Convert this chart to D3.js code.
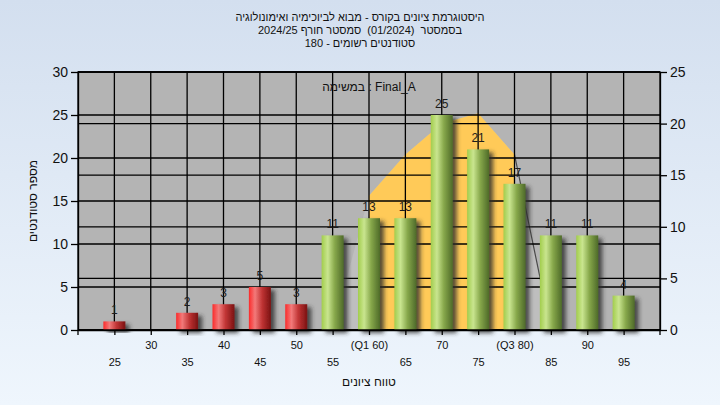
<!DOCTYPE html>
<html>
<head>
<meta charset="utf-8">
<script src="https://cdn.jsdelivr.net/npm/d3@7"></script>
<style>
  html, body { margin: 0; padding: 0; background: #e4edf8; }
  svg { display: block; font-family: "Liberation Sans", Arial, sans-serif; }
</style>
</head>
<body>
<svg id="chart" width="720" height="405"></svg>
<script>
// ---- data ----
const categories = ["25","30","35","40","45","50","55","60","65","70","75","80","85","90","95"];
const tickLabels = ["25","30","35","40","45","50","55","(Q1 60)","65","70","75","(Q3 80)","85","90","95"];
const counts     = [1, 0, 2, 3, 5, 3, 11, 13, 13, 25, 21, 17, 11, 11, 4];
const curveValues = [0, 0, 0, 0, 0, 0, 0, 13, 17, 20, 21, 17, 0, 0, 0];
const passScore = 55;
const q1Cat = "60", q3Cat = "80";
const leftTicks = [0, 5, 10, 15, 20, 25, 30];
const rightTicks = [0, 5, 10, 15, 20, 25];
const titleLines = [
  "היסטוגרמת ציונים בקורס - מבוא לביוכימיה ואימונולוגיה",
  "בסמסטר  (01/2024)  סמסטר חורף 2024/25",
  "סטודנטים רשומים - 180"
];
const noteText = "במשימה : Final_A";
const yTitle = "מספר סטודנטים";
const xTitle = "טווח ציונים";

// ---- layout ----
const W = 720, H = 405;
const plot = { left: 78, right: 660, top: 72, bottom: 330 };

const svg = d3.select("#chart");
const defs = svg.append("defs");

const bg = defs.append("linearGradient").attr("id", "bg").attr("x1", 0).attr("y1", 0).attr("x2", 0).attr("y2", 1);
bg.append("stop").attr("offset", "0%").attr("stop-color", "#d3dfef");
bg.append("stop").attr("offset", "100%").attr("stop-color", "#eff6fd");

function barGrad(id, c0, c1, c2, c3) {
  const g = defs.append("linearGradient").attr("id", id).attr("x1", 0).attr("y1", 0).attr("x2", 1).attr("y2", 0);
  g.append("stop").attr("offset", "0%").attr("stop-color", c0);
  g.append("stop").attr("offset", "28%").attr("stop-color", c1);
  g.append("stop").attr("offset", "60%").attr("stop-color", c2);
  g.append("stop").attr("offset", "100%").attr("stop-color", c3);
}
barGrad("gGreen", "#a2cd4c", "#c9e58f", "#86a74a", "#4e6a29");
barGrad("gRed", "#fb2b2b", "#f27a7a", "#c03434", "#7a1212");

const sh = defs.append("filter").attr("id", "shadow").attr("x", "-30%").attr("y", "-30%").attr("width", "170%").attr("height", "160%");
sh.append("feDropShadow").attr("dx", 4).attr("dy", 3).attr("stdDeviation", 2.2)
  .attr("flood-color", "#2a2a2a").attr("flood-opacity", 0.8);

svg.append("rect").attr("width", W).attr("height", H).attr("fill", "url(#bg)");

// scales
const x = d3.scalePoint().domain(categories).range([plot.left, plot.right]).padding(1);
const yL = d3.scaleLinear().domain([0, 30]).range([plot.bottom, plot.top]);
const yR = d3.scaleLinear().domain([0, 25]).range([plot.bottom, plot.top]);

// plot background
svg.append("rect").attr("x", plot.left).attr("y", plot.top)
  .attr("width", plot.right - plot.left).attr("height", plot.bottom - plot.top)
  .attr("fill", "#b4b4b4");

// curve area (right axis)
const curveData = categories.map((c, i) => ({ c, v: curveValues[i] }));
const area = d3.area().x(d => x(d.c)).y0(yR(0)).y1(d => yR(d.v)).curve(d3.curveLinear);
defs.append("clipPath").attr("id", "iqr").append("rect")
  .attr("x", x(q1Cat)).attr("y", plot.top).attr("width", x(q3Cat) - x(q1Cat)).attr("height", plot.bottom - plot.top);
svg.append("path").datum(curveData).attr("d", area).attr("fill", "#bebebe");
svg.append("path").datum(curveData).attr("d", area).attr("fill", "#ffca58").attr("clip-path", "url(#iqr)");
// descending outline after Q3
const iq3 = categories.indexOf(q3Cat);
const tail = curveData.slice(iq3);
svg.append("path").datum(tail)
  .attr("d", d3.line().x(d => x(d.c)).y(d => Math.min(yR(d.v), plot.bottom + 1.5)))
  .attr("fill", "none").attr("stroke", "#4a4a4a").attr("stroke-width", 1.2);

// grid lines
const grid = svg.append("g").attr("stroke", "#000").attr("stroke-width", 1.3);
leftTicks.forEach(t => grid.append("line").attr("x1", plot.left).attr("x2", plot.right).attr("y1", yL(t)).attr("y2", yL(t)));
rightTicks.forEach(t => grid.append("line").attr("x1", plot.left).attr("x2", plot.right).attr("y1", yR(t)).attr("y2", yR(t)));
categories.forEach(c => grid.append("line").attr("x1", x(c)).attr("x2", x(c)).attr("y1", plot.top).attr("y2", plot.bottom));

// bars
const barW = 22;
const bars = svg.append("g");
bars.selectAll("rect").data(counts.map((v, i) => ({ c: categories[i], v })).filter(d => d.v > 0))
  .join("rect")
  .attr("x", d => x(d.c) - barW / 2)
  .attr("y", d => yL(d.v))
  .attr("width", barW)
  .attr("height", d => yL(0) - yL(d.v))
  .attr("fill", d => +d.c < passScore ? "url(#gRed)" : "url(#gGreen)")
  .attr("filter", "url(#shadow)");

// value labels
svg.append("g").selectAll("text").data(counts.map((v, i) => ({ c: categories[i], v })).filter(d => d.v > 0))
  .join("text")
  .attr("x", d => x(d.c))
  .attr("y", d => yL(d.v) - 7)
  .attr("text-anchor", "middle")
  .attr("font-size", 12)
  .attr("fill", "#1c1c1c")
  .text(d => d.v);

// plot frame
svg.append("rect").attr("x", plot.left).attr("y", plot.top)
  .attr("width", plot.right - plot.left).attr("height", plot.bottom - plot.top)
  .attr("fill", "none").attr("stroke", "#000").attr("stroke-width", 1.3);

// axes
const axL = svg.append("g").attr("transform", `translate(${plot.left},0)`)
  .call(d3.axisLeft(yL).tickValues(leftTicks).tickSize(7).tickSizeOuter(0).tickPadding(3));
const axR = svg.append("g").attr("transform", `translate(${plot.right},0)`)
  .call(d3.axisRight(yR).tickValues(rightTicks).tickSize(7).tickSizeOuter(0).tickPadding(3));
[axL, axR].forEach(a => {
  a.selectAll("text").attr("font-size", 14).attr("fill", "#111").attr("font-family", "Liberation Sans, Arial, sans-serif");
  a.selectAll("line, path").attr("stroke", "#000").attr("stroke-width", 1.3);
});

const axB = svg.append("g").attr("transform", `translate(0,${plot.bottom})`)
  .call(d3.axisBottom(x).tickSize(5).tickSizeOuter(0).tickPadding(3).tickFormat((d, i) => tickLabels[i]));
axB.selectAll("line, path").attr("stroke", "#000").attr("stroke-width", 1.3);
axB.selectAll("text")
  .attr("font-size", 11).attr("fill", "#111").attr("font-family", "Liberation Sans, Arial, sans-serif")
  .attr("dy", null)
  .attr("y", (d, i) => i % 2 === 1 ? 19 : 36);
// edge ticks
[plot.left, plot.right].forEach(px => svg.append("line").attr("x1", px).attr("x2", px)
  .attr("y1", plot.bottom).attr("y2", plot.bottom + 5).attr("stroke", "#000").attr("stroke-width", 1.3));

// titles
const tg = svg.append("g").attr("font-size", 11).attr("fill", "#111").attr("text-anchor", "middle");
titleLines.forEach((t, i) => tg.append("text").attr("x", W / 2).attr("y", 21 + i * 13)
  .attr("direction", "rtl").style("unicode-bidi", "embed").style("white-space", "pre").text(t));

svg.append("text").attr("x", (plot.left + plot.right) / 2).attr("y", 91)
  .attr("text-anchor", "middle").attr("font-size", 12).attr("fill", "#111").text(noteText);

svg.append("text").attr("transform", `translate(37,${(plot.top + plot.bottom) / 2}) rotate(-90)`)
  .attr("text-anchor", "middle").attr("font-size", 12).attr("fill", "#111").text(yTitle);

svg.append("text").attr("x", (plot.left + plot.right) / 2).attr("y", 386)
  .attr("text-anchor", "middle").attr("font-size", 12).attr("fill", "#111").text(xTitle);
</script>
</body>
</html>
